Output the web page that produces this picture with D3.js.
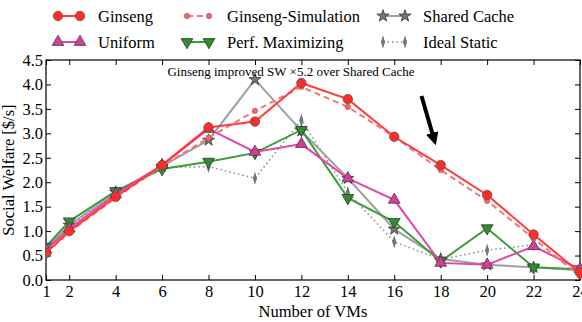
<!DOCTYPE html>
<html>
<head>
<meta charset="utf-8">
<script src="https://cdn.jsdelivr.net/npm/d3@7"></script>
<style>
body { margin: 0; background: #fff; }
svg text { font-family: 'Liberation Serif', 'Times New Roman', serif; }
</style>
</head>
<body>
<div id="chart"></div>
<script>
var vms = [1, 2, 4, 6, 8, 10, 12, 14, 16, 18, 20, 22, 24];
var ginseng    = [0.55, 1.00, 1.70, 2.35, 3.12, 3.24, 4.03, 3.70, 2.93, 2.35, 1.74, 0.93, 0.15];
var ginsengSim = [0.55, 0.98, 1.68, 2.33, 2.91, 3.46, 3.95, 3.54, 2.93, 2.25, 1.62, 0.85, 0.08];
var uniform    = [0.62, 1.05, 1.75, 2.35, 3.09, 2.62, 2.78, 2.08, 1.64, 0.35, 0.31, 0.69, 0.22];
var perfMax    = [0.68, 1.20, 1.82, 2.27, 2.42, 2.60, 3.07, 1.68, 1.19, 0.38, 1.06, 0.26, 0.22];
var shared     = [0.65, 1.12, 1.80, 2.33, 2.86, 4.10, 3.05, 2.08, 1.04, 0.43, 0.31, 0.26, 0.20];
var idealStatic= [0.60, 1.10, 1.78, 2.30, 2.32, 2.08, 3.27, 1.79, 0.78, 0.42, 0.61, 0.72, 0.20];
var yTicks = [0, 0.5, 1, 1.5, 2, 2.5, 3, 3.5, 4, 4.5];

var series = [
  {name: "Ginseng", values: ginseng, color: "#ff3b3b", dash: null, marker: "circle", size: 70, fill: "#ff2a2a", stroke: "#555"},
  {name: "Uniform", values: uniform, color: "#e545a8", dash: null, marker: "triangle", size: 60, fill: "#d63c9a", stroke: "#444"},
  {name: "Ginseng-Simulation", values: ginsengSim, color: "#f27777", dash: "6,4", marker: "circle", size: 22, fill: "#f06a6a", stroke: "#d05050"},
  {name: "Perf. Maximizing", values: perfMax, color: "#3a9e3a", dash: null, marker: "triangleDown", size: 60, fill: "#2e8e2e", stroke: "#333"},
  {name: "Shared Cache", values: shared, color: "#a0a0a0", dash: null, marker: "star", size: 45, fill: "#777", stroke: "#333"},
  {name: "Ideal Static", values: idealStatic, color: "#888", dash: "1.5,3", marker: "diamond", size: 20, fill: "#777", stroke: "#666"}
];

var width = 582, height = 322;
var margin = {top: 60, right: 2, bottom: 42, left: 46};
var svg = d3.select("#chart").append("svg")
    .attr("width", width)
    .attr("height", height)
    .attr("font-family", "'Liberation Serif', serif");

var x = d3.scaleLinear().domain([1, 24]).range([margin.left, width - margin.right]);
var y = d3.scaleLinear().domain([0, 4.5]).range([height - margin.bottom, margin.top]);

svg.append("clipPath").attr("id", "clip").append("rect")
    .attr("x", margin.left).attr("y", margin.top - 8)
    .attr("width", width - margin.left - margin.right + 8)
    .attr("height", height - margin.top - margin.bottom + 8);

// axes (ticks inward, mirrored)
svg.append("g")
    .attr("transform", "translate(0," + y(0) + ")")
    .call(d3.axisBottom(x).tickValues(vms).tickSize(-5).tickPadding(5).tickFormat(d3.format("d")))
    .call(g => g.select(".domain").remove());
svg.append("g")
    .attr("transform", "translate(0," + y(4.5) + ")")
    .call(d3.axisTop(x).tickValues(vms).tickSize(-5).tickFormat(""))
    .call(g => g.select(".domain").remove());
svg.append("g")
    .attr("transform", "translate(" + x(1) + ",0)")
    .call(d3.axisLeft(y).tickValues(yTicks).tickSize(-5).tickPadding(3).tickFormat(d3.format(".1f")))
    .call(g => g.select(".domain").remove());
svg.append("g")
    .attr("transform", "translate(" + x(24) + ",0)")
    .call(d3.axisRight(y).tickValues(yTicks).tickSize(-5).tickFormat(""))
    .call(g => g.select(".domain").remove());

svg.selectAll("g").attr("font-family", null);
svg.selectAll(".tick text").attr("font-size", 16.5).attr("fill", "#000");
svg.selectAll(".tick line").attr("stroke", "#000");

svg.append("rect")
    .attr("x", x(1)).attr("y", y(4.5))
    .attr("width", x(24) - x(1)).attr("height", y(0) - y(4.5))
    .attr("fill", "none").attr("stroke", "#000").attr("stroke-width", 1.2);

function symbolFor(m) {
  if (m === "circle") return d3.symbolCircle;
  if (m === "star") return d3.symbolStar;
  if (m === "diamond") return d3.symbolDiamond;
  return d3.symbolTriangle;
}
function drawMarker(g, s, cx, cy) {
  var t = "translate(" + cx + "," + cy + ")";
  if (s.marker === "triangleDown") t += " rotate(180)";
  if (s.marker === "diamond") t += " scale(0.7,1.3)";
  g.append("path")
      .attr("d", d3.symbol().type(symbolFor(s.marker)).size(s.size)())
      .attr("transform", t)
      .attr("fill", s.fill)
      .attr("stroke", s.stroke)
      .attr("stroke-width", 0.8);
}

var line = d3.line().x((d, i) => x(vms[i])).y(d => y(d));
var plot = svg.append("g").attr("clip-path", "url(#clip)");

var drawOrder = [5, 4, 3, 1, 2, 0];
drawOrder.forEach(function(k) {
  var s = series[k];
  var g = plot.append("g");
  g.append("path")
      .datum(s.values)
      .attr("d", line)
      .attr("fill", "none")
      .attr("stroke", s.color)
      .attr("stroke-width", s.name === "Ideal Static" ? 1.5 : 2)
      .attr("stroke-dasharray", s.dash);
  s.values.forEach(function(v, i) { drawMarker(g, s, x(vms[i]), y(v)); });
});

// annotation
svg.append("text")
    .attr("x", 291).attr("y", 76)
    .attr("text-anchor", "middle")
    .attr("font-size", 13)
    .text("Ginseng improved SW \u00d75.2 over Shared Cache");

svg.append("defs").append("marker")
    .attr("id", "arrowhead")
    .attr("viewBox", "0 0 10 10")
    .attr("refX", 5).attr("refY", 5)
    .attr("markerWidth", 3.2).attr("markerHeight", 3.2)
    .attr("orient", "auto")
    .append("path").attr("d", "M0,0 L10,5 L0,10 Z").attr("fill", "#000");
svg.append("line")
    .attr("x1", 421.5).attr("y1", 96)
    .attr("x2", 434).attr("y2", 139)
    .attr("stroke", "#000").attr("stroke-width", 4)
    .attr("marker-end", "url(#arrowhead)");

// axis titles
svg.append("text")
    .attr("x", x(12.5)).attr("y", 317)
    .attr("text-anchor", "middle").attr("font-size", 16.5)
    .text("Number of VMs");
svg.append("text")
    .attr("transform", "translate(14," + ((y(0) + y(4.5)) / 2) + ") rotate(-90)")
    .attr("text-anchor", "middle").attr("font-size", 16.5)
    .text("Social Welfare [$/s]");

// legend
var legendPos = [[58, 16], [58, 42], [187, 16], [187, 42], [383, 16], [383, 42]];
series.forEach(function(s, i) {
  var p = legendPos[i];
  var g = svg.append("g");
  g.append("line")
      .attr("x1", p[0]).attr("x2", p[0] + 22)
      .attr("y1", p[1]).attr("y2", p[1])
      .attr("stroke", s.color)
      .attr("stroke-width", s.name === "Ideal Static" ? 1.5 : 2)
      .attr("stroke-dasharray", s.dash);
  drawMarker(g, s, p[0], p[1]);
  drawMarker(g, s, p[0] + 22, p[1]);
  g.append("text")
      .attr("x", p[0] + 40).attr("y", p[1] + 5.5)
      .attr("font-size", 16.5)
      .text(s.name);
});
</script>
</body>
</html>
